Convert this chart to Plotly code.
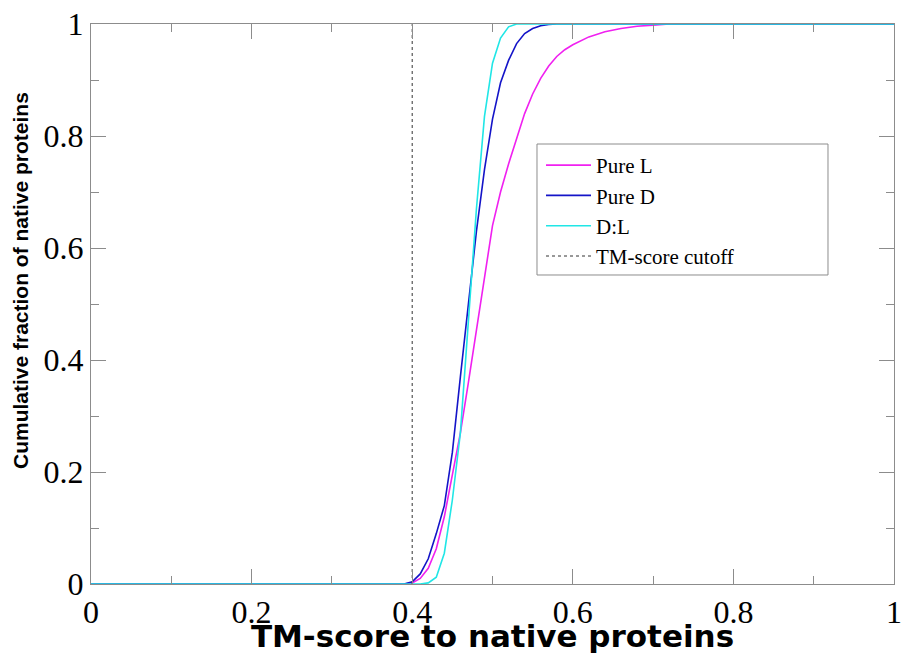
import plotly.graph_objects as go

# TM-score grid and cumulative fractions
x_pure_l = [0.0, 0.39, 0.40, 0.41, 0.42, 0.43, 0.44, 0.45, 0.46, 0.47, 0.48, 0.49,
            0.50, 0.51, 0.52, 0.53, 0.54, 0.55, 0.56, 0.57, 0.58, 0.59, 0.60,
            0.62, 0.64, 0.66, 0.68, 0.70, 0.72, 1.0]
y_pure_l = [0.0, 0.0, 0.002, 0.01, 0.028, 0.063, 0.12, 0.195, 0.27, 0.36, 0.455, 0.55,
            0.64, 0.70, 0.75, 0.795, 0.84, 0.875, 0.903, 0.925, 0.942, 0.954, 0.963,
            0.977, 0.986, 0.992, 0.996, 0.998, 1.0, 1.0]

x_pure_d = [0.0, 0.39, 0.40, 0.41, 0.42, 0.43, 0.44, 0.45, 0.46, 0.47, 0.48, 0.49,
            0.50, 0.51, 0.52, 0.53, 0.54, 0.55, 0.56, 0.57, 0.58, 1.0]
y_pure_d = [0.0, 0.0, 0.004, 0.018, 0.045, 0.09, 0.14, 0.235, 0.37, 0.50, 0.63, 0.74,
            0.83, 0.895, 0.935, 0.965, 0.983, 0.992, 0.997, 0.999, 1.0, 1.0]

x_dl = [0.0, 0.41, 0.42, 0.43, 0.44, 0.45, 0.46, 0.47, 0.48, 0.49, 0.50, 0.51,
        0.52, 0.53, 1.0]
y_dl = [0.0, 0.0, 0.002, 0.012, 0.055, 0.15, 0.27, 0.47, 0.67, 0.835, 0.93, 0.975,
        0.995, 1.0, 1.0]

cutoff_x = [0.4, 0.4]
cutoff_y = [0.0, 1.0]

fig = go.Figure()
fig.add_trace(go.Scatter(x=x_pure_l, y=y_pure_l, mode="lines", name="Pure L",
                         line=dict(color="#f020f0", width=1.6)))
fig.add_trace(go.Scatter(x=x_pure_d, y=y_pure_d, mode="lines", name="Pure D",
                         line=dict(color="#1414c8", width=1.6)))
fig.add_trace(go.Scatter(x=x_dl, y=y_dl, mode="lines", name="D:L",
                         line=dict(color="#20e6e6", width=1.6)))
fig.add_trace(go.Scatter(x=cutoff_x, y=cutoff_y, mode="lines", name="TM-score cutoff",
                         line=dict(color="#333333", width=1, dash="dot")))

axis_common = dict(
    showgrid=False, zeroline=False, showline=True, linecolor="#8c8c8c", linewidth=1,
    mirror="allticks", ticks="inside", ticklen=15, tickwidth=1, tickcolor="#8c8c8c",
    tickfont=dict(family="Liberation Serif", size=32, color="black"),
    minor=dict(ticks="inside", ticklen=8, tickwidth=1, tickcolor="#8c8c8c", dtick=0.1),
    dtick=0.2, range=[0, 1], automargin=False, ticklabeloverflow="allow",
)

fig.update_layout(
    width=901, height=654,
    margin=dict(l=91, r=7, t=24, b=70),
    plot_bgcolor="white", paper_bgcolor="white",
    showlegend=True,
    legend=dict(x=0.5604, y=0.784, xanchor="left", yanchor="top",
                bgcolor="rgba(0,0,0,0)", borderwidth=0,
                font=dict(family="Liberation Serif", size=21, color="black"),
                itemwidth=45, tracegroupgap=0),
    # legend frame drawn wider, like the original
    shapes=[dict(type="rect", xref="paper", yref="paper",
                 x0=0.5554, x1=0.9178, y0=0.5518, y1=0.7857,
                 line=dict(color="#8c8c8c", width=1), fillcolor="white", layer="below")],
    annotations=[dict(text="<b>Cumulative fraction of native proteins</b>",
                      xref="paper", yref="paper", x=0, y=0.541, xshift=-71,
                      xanchor="center", yanchor="middle", textangle=-90, showarrow=False,
                      font=dict(family="Liberation Sans", size=21, color="black"))],
)
fig.update_xaxes(**axis_common,
                 title=dict(text="<b>TM-score to native proteins</b>", standoff=3,
                            font=dict(family="DejaVu Sans", size=31, color="black")))
fig.update_yaxes(**axis_common)

fig.write_html("out.html", config={"displayModeBar": False},
               post_script="document.body.style.margin='0';"
                           "document.body.style.overflow='hidden';"
                           "document.documentElement.style.overflow='hidden';")
